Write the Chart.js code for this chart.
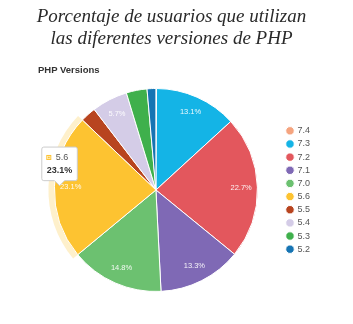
<!DOCTYPE html>
<html>
<head>
<meta charset="utf-8">
<script src="https://cdn.jsdelivr.net/npm/chart.js@4.4.1/dist/chart.umd.min.js"></script>
<style>
  html, body { margin: 0; padding: 0; background: #fff; }
  body { width: 353px; height: 324px; position: relative; overflow: hidden; }
  #title {
    position: absolute; left: -5px; top: 5px; width: 353px; text-align: center;
    font-family: "Liberation Serif", "DejaVu Serif", serif; font-style: italic;
    font-size: 19px; line-height: 22px; color: #2a2a2a;
  }
  #sub {
    position: absolute; left: 38px; top: 64px;
    font-family: "Liberation Sans", Arial, sans-serif; font-weight: bold;
    font-size: 9.5px; color: #333;
  }
  #wrap { position: absolute; left: 0; top: 0; width: 353px; height: 324px; }
</style>
</head>
<body>
<div id="wrap"><canvas id="phpChart"></canvas></div>
<div id="title">Porcentaje de usuarios que utilizan<br>las diferentes versiones de PHP</div>
<div id="sub">PHP Versions</div>
<script>
  // versions and share (%)
  const versions = ['7.4', '7.3', '7.2', '7.1', '7.0', '5.6', '5.5', '5.4', '5.3', '5.2'];
  const shares = [0.1, 13.1, 22.7, 13.3, 14.8, 23.1, 2.5, 5.7, 3.3, 1.4];
  const colors = ['#f5a47f', '#14b4e6', '#e3575d', '#7f69b5', '#6cc170',
                  '#fdc331', '#b8441f', '#d4cce7', '#3fb04c', '#1674b3'];
  const activeIndex = 5;

  // tooltip anchored near the outer edge of the slice
  Chart.Tooltip.positioners.sliceEdge = function (items) {
    if (!items.length) return false;
    const arc = items[0].element;
    const mid = (arc.startAngle + arc.endAngle) / 2;
    const r = arc.outerRadius * 0.95;
    return { x: arc.x + Math.cos(mid) * r, y: arc.y + Math.sin(mid) * r };
  };

  // light halo around the hovered slice
  const haloPlugin = {
    id: 'halo',
    beforeDatasetsDraw(chart) {
      const active = chart.getActiveElements();
      const ctx = chart.ctx;
      active.forEach(a => {
        const arc = a.element;
        ctx.save();
        ctx.beginPath();
        ctx.arc(arc.x, arc.y, arc.outerRadius + 6, arc.startAngle, arc.endAngle);
        ctx.arc(arc.x, arc.y, arc.outerRadius, arc.endAngle, arc.startAngle, true);
        ctx.closePath();
        ctx.fillStyle = colors[a.index] + '40';
        ctx.fill();
        ctx.restore();
      });
    }
  };

  // percentage labels inside the bigger slices
  const labelPlugin = {
    id: 'sliceLabels',
    afterDatasetsDraw(chart) {
      const ctx = chart.ctx;
      const meta = chart.getDatasetMeta(0);
      ctx.save();
      ctx.font = '7.5px "Liberation Sans", Arial, sans-serif';
      ctx.fillStyle = 'rgba(255,255,255,0.92)';
      ctx.textAlign = 'center';
      ctx.textBaseline = 'middle';
      meta.data.forEach((arc, i) => {
        if (shares[i] < 5) return;
        const mid = (arc.startAngle + arc.endAngle) / 2;
        const r = arc.outerRadius * 0.84;
        ctx.fillText(shares[i].toFixed(1) + '%', arc.x + Math.cos(mid) * r, arc.y + Math.sin(mid) * r);
      });
      ctx.restore();
    }
  };

  const chart = new Chart(document.getElementById('phpChart'), {
    type: 'pie',
    data: {
      labels: versions,
      datasets: [{
        data: shares,
        backgroundColor: colors,
        hoverBackgroundColor: colors,
        borderColor: '#ffffff',
        hoverBorderColor: '#ffffff',
        borderWidth: 1,
        hoverOffset: 0
      }]
    },
    options: {
      responsive: false,
      animation: false,
      events: [],
      layout: { padding: { left: 29, top: 88, bottom: 32, right: 4 } },
      plugins: {
        legend: {
          position: 'right',
          labels: {
            usePointStyle: true,
            pointStyle: 'circle',
            boxWidth: 6,
            boxHeight: 6,
            padding: 4.15,
            color: '#555',
            font: { family: '"Liberation Sans", Arial, sans-serif', size: 9 }
          }
        },
        tooltip: {
          position: 'sliceEdge',
          yAlign: 'bottom',
          xAlign: 'center',
          backgroundColor: '#ffffff',
          borderColor: '#cccccc',
          borderWidth: 1,
          cornerRadius: 2,
          caretSize: 5,
          caretPadding: 1,
          padding: 5,
          boxWidth: 4,
          boxHeight: 4,
          boxPadding: 3,
          bodyColor: '#555',
          footerColor: '#333',
          footerMarginTop: 2,
          bodyFont: { family: '"Liberation Sans", Arial, sans-serif', size: 9 },
          footerFont: { family: '"Liberation Sans", Arial, sans-serif', size: 9, weight: 'bold' },
          callbacks: {
            title: () => '',
            label: item => item.label,
            labelColor: item => ({ borderColor: colors[item.dataIndex], backgroundColor: colors[item.dataIndex], borderWidth: 0 }),
            footer: items => items[0].raw.toFixed(1) + '%'
          }
        }
      }
    },
    plugins: [haloPlugin, labelPlugin]
  });
  chart.resize(353, 324);

  const act = [{ datasetIndex: 0, index: activeIndex }];
  chart.setActiveElements(act);
  chart.tooltip.setActiveElements(act, { x: 0, y: 0 });
  chart.update();
</script>
</body>
</html>
